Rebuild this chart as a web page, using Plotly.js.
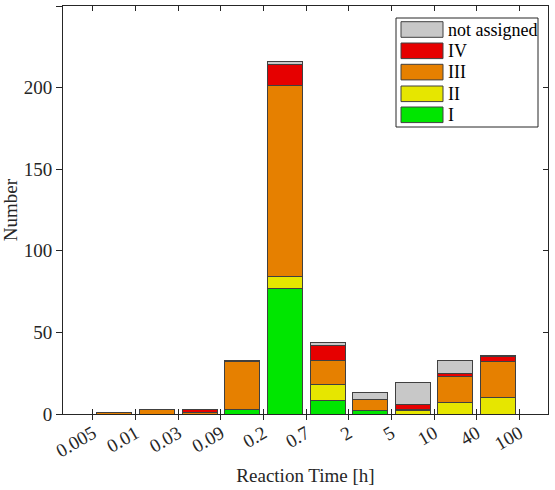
<!DOCTYPE html>
<html>
<head>
<meta charset="utf-8">
<script src="https://cdn.plot.ly/plotly-3.0.1.min.js"></script>
<style>html,body{margin:0;padding:0;background:#fff;}#chart{width:555px;height:490px;}</style>
</head>
<body>
<div id="chart"></div>
<script>
// Bin edges of reaction time [h] (tick labels at bin edges)
var edgeLabels = ['0.005','0.01','0.03','0.09','0.2','0.7','2','5','10','40','100'];
// Counts per bin (10 bins between the 11 edges), stacked bottom to top
var classI       = [0, 0, 0, 3, 77, 8, 2, 0, 0, 0];
var classII      = [0, 0, 0, 0, 7, 10, 0, 2, 7, 10];
var classIII     = [1, 3, 1, 29, 117, 15, 7, 1, 16, 22];
var classIV      = [0, 0, 2, 1, 13, 9, 0, 3, 2, 3];
var notAssigned  = [0, 0, 0, 0, 2, 2, 4, 13, 8, 1];

var seriesNames  = ['I', 'II', 'III', 'IV', 'not assigned'];
var seriesValues = [classI, classII, classIII, classIV, notAssigned];
var seriesColors = ['#00e600', '#e6e600', '#e68000', '#e60000', '#c8c8c8'];

var binPos = edgeLabels.slice(0, -1).map(function (_, i) { return i + 0.5; });
var edgePos = edgeLabels.map(function (_, i) { return i; });

var traces = seriesValues.map(function (vals, k) {
  return {
    type: 'bar',
    name: seriesNames[k],
    x: binPos,
    y: vals.map(function (v) { return v === 0 ? null : v; }),
    width: 0.82,
    marker: { color: seriesColors[k], line: { color: '#404040', width: 1 } },
    showlegend: false,
    hoverinfo: 'skip'
  };
});

var W = 555, H = 490;
var M = { l: 63, r: 7, t: 6, b: 76 };
var PW = W - M.l - M.r, PH = H - M.t - M.b;
function px(x) { return (x - M.l) / PW; }
function py(y) { return 1 - (y - M.t) / PH; }

var font = 'Liberation Serif, Times New Roman, serif';
var axisColor = '#262626';

// Manual legend (top entry first)
var shapes = [{
  type: 'rect', xref: 'paper', yref: 'paper',
  x0: px(396), x1: px(538), y0: py(127), y1: py(18),
  line: { color: axisColor, width: 1 }, fillcolor: '#ffffff'
}];
var annotations = [];
var rowTop = [21.7, 43, 64.3, 86, 107];
for (var r = 0; r < 5; r++) {
  var k = 4 - r;
  shapes.push({
    type: 'rect', xref: 'paper', yref: 'paper',
    x0: px(401), x1: px(443), y0: py(rowTop[r] + 15.6), y1: py(rowTop[r]),
    line: { color: '#404040', width: 1 }, fillcolor: seriesColors[k]
  });
  annotations.push({
    xref: 'paper', yref: 'paper', x: px(446), y: py(rowTop[r] + 7.8),
    xanchor: 'left', yanchor: 'middle', showarrow: false,
    text: seriesNames[k], font: { family: font, size: 18, color: '#000' }
  });
}

var layout = {
  width: W, height: H,
  margin: M,
  paper_bgcolor: '#fff', plot_bgcolor: '#fff',
  barmode: 'stack',
  bargap: 0,
  font: { family: font, size: 19, color: '#262626' },
  xaxis: {
    range: [-0.703, 10.67],
    tickmode: 'array', tickvals: edgePos, ticktext: edgeLabels,
    tickangle: -30,
    ticks: 'inside', ticklen: 5, tickcolor: axisColor, tickwidth: 1,
    showline: true, linecolor: axisColor, linewidth: 1, mirror: 'ticks',
    showgrid: false, zeroline: false,
    tickfont: { family: font, size: 19, color: '#262626' },
    title: { text: 'Reaction Time [h]', font: { family: font, size: 19, color: '#262626' }, standoff: 8 }
  },
  xaxis2: {
    overlaying: 'x', matches: 'x', side: 'bottom', anchor: 'y',
    tickmode: 'array', tickvals: edgePos, ticktext: edgeLabels,
    ticks: 'outside', ticklen: 5, tickcolor: axisColor, tickwidth: 1,
    showticklabels: false, showline: false, showgrid: false, zeroline: false
  },
  yaxis: {
    range: [0, 250],
    tickvals: [0, 50, 100, 150, 200, 250],
    ticks: 'outside', ticklen: 6, tickcolor: axisColor, tickwidth: 1,
    showline: true, linecolor: axisColor, linewidth: 1, mirror: true,
    showgrid: false, zeroline: false,
    tickfont: { family: font, size: 19, color: '#262626' },
    title: { text: 'Number', font: { family: font, size: 19, color: '#262626' }, standoff: 6 }
  },
  yaxis2: {
    overlaying: 'y', matches: 'y', side: 'right', anchor: 'x',
    tickvals: [0, 50, 100, 150, 200, 250],
    ticks: 'inside', ticklen: 5, tickcolor: axisColor, tickwidth: 1,
    showticklabels: false, showline: false, showgrid: false, zeroline: false
  },
  shapes: shapes,
  annotations: annotations
};

// invisible trace to activate the secondary axes
traces.push({ type: 'scatter', x: [null], y: [null], xaxis: 'x2', yaxis: 'y2', showlegend: false, hoverinfo: 'skip' });

Plotly.newPlot('chart', traces, layout, { displayModeBar: false, staticPlot: true });
</script>
</body>
</html>
